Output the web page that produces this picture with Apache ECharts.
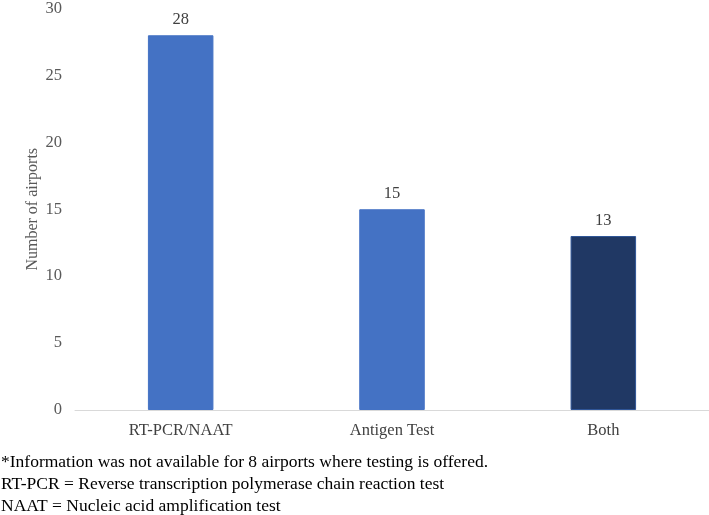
<!DOCTYPE html>
<html>
<head>
<meta charset="utf-8">
<script src="https://cdn.jsdelivr.net/npm/echarts@6/dist/echarts.min.js"></script>
<style>html,body{margin:0;padding:0;background:#fff}#c{width:709px;height:515px}</style>
</head>
<body>
<div id="c"></div>
<script>
var categories = ['RT-PCR/NAAT', 'Antigen Test', 'Both'];
var values = [28, 15, 13];
var barColors = ['#4472C4', '#4472C4', '#203864'];
var yTicks = [0, 5, 10, 15, 20, 25, 30];
var footnotes = [
  '*Information was not available for 8 airports where testing is offered.',
  'RT-PCR = Reverse transcription polymerase chain reaction test',
  'NAAT = Nucleic acid amplification test'
];
var serif = '"Liberation Serif", "Times New Roman", serif';
var chart = echarts.init(document.getElementById('c'), null, {renderer: 'canvas'});
chart.setOption({
  animation: false,
  backgroundColor: '#fff',
  grid: {left: 75, right: 0, top: 6, bottom: 105},
  xAxis: {
    type: 'category', data: categories,
    axisLine: {lineStyle: {color: '#d9d9d9', width: 1}},
    axisTick: {show: false},
    axisLabel: {color: '#404040', fontFamily: serif, fontSize: 16.5, margin: 12}
  },
  yAxis: {
    type: 'value', min: yTicks[0], max: yTicks[yTicks.length - 1], interval: 5,
    name: 'Number of airports', nameLocation: 'middle', nameGap: 34, nameMoveOverlap: false,
    nameTextStyle: {color: '#595959', fontFamily: serif, fontSize: 16},
    axisLine: {show: false}, axisTick: {show: false},
    splitLine: {show: false},
    axisLabel: {color: '#595959', fontFamily: serif, fontSize: 16.5, margin: 13}
  },
  series: [{
    type: 'bar', barWidth: '31%',
    data: values.map(function (v, i) {
      return {value: v, itemStyle: {color: barColors[i], borderColor: i === 2 ? '#2F5597' : barColors[i], borderWidth: 1}};
    }),
    label: {show: true, position: 'top', distance: 7, color: '#404040', fontFamily: serif, fontSize: 16.5}
  }],
  graphic: footnotes.map(function (t, i) {
    return {type: 'text', left: 1, top: 453 + i * 22,
      style: {text: t, fill: '#000', font: '17.5px ' + serif}};
  })
});
</script>
</body>
</html>
